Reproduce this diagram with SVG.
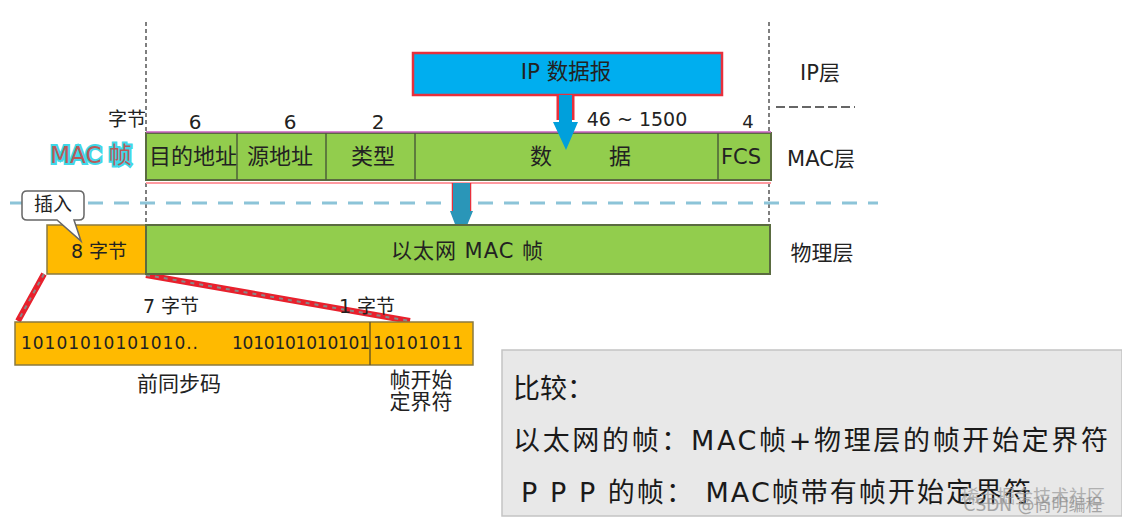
<svg xmlns="http://www.w3.org/2000/svg" width="1122" height="522" viewBox="0 0 1122 522" font-size="21">
<style>
text{font-family:"DejaVu Sans","Noto Sans CJK SC",sans-serif;fill:#222;text-anchor:middle}
.g{fill:#92cd4d;stroke:#5a6b40;stroke-width:2}
.o{fill:#ffba00;stroke:#8a7a40;stroke-width:1.5}
.l{fill:none;stroke:#555;stroke-width:1.5;stroke-dasharray:4 3}
.red{fill:none;stroke:#e8202c;stroke-width:6}
.redc{fill:none;stroke:#888;stroke-width:2;stroke-dasharray:4 5}
.big{font-size:27px;text-anchor:start;fill:#1a1a1a}
.s{text-anchor:start}
</style>
<rect width="1122" height="522" fill="#fff"/>
<g id="guides">
<path class="l" d="M146 22V224M769 22V224"/>
<path d="M776 107H855" fill="none" stroke="#666" stroke-width="2" stroke-dasharray="9 4"/>
<path d="M10 203H878" fill="none" stroke="#8cc4d8" stroke-width="3" stroke-dasharray="15 11"/>
</g>
<g id="ip-packet">
<rect x="413" y="53" width="309" height="42" fill="#00aeef" stroke="#e8303c" stroke-width="2.5"/>
<text x="566" y="79" font-size="21.5">IP 数据报</text>
</g>
<g id="mac-frame">
<rect x="146" y="133" width="625" height="47" class="g"/>
<path d="M146 132H771" stroke="#c860c0" stroke-width="1.5" fill="none"/>
<path d="M146 183H771" stroke="#ff9aa0" stroke-width="2" fill="none"/>
<path d="M237 133V180M326 133V180M415 133V180M718 133V180" stroke="#4e6038" stroke-width="1.5" fill="none"/>
<text x="193" y="164" font-size="22">目的地址</text>
<text x="280" y="164" font-size="22">源地址</text>
<text x="373" y="164" font-size="22">类型</text>
<text x="541" y="164" font-size="22">数</text>
<text x="620" y="164" font-size="22">据</text>
<text x="741" y="164">FCS</text>
</g>
<g id="byte-labels">
<text x="127" y="126" font-size="19">字节</text>
<text x="195" y="129" font-size="20">6</text>
<text x="290" y="129" font-size="20">6</text>
<text x="378" y="129" font-size="20">2</text>
<text x="637" y="126" font-size="19">46 ~ 1500</text>
<text x="748" y="128" font-size="18">4</text>
</g>
<g id="mac-label">
<text x="91" y="163" font-size="23" style="fill:#b85a5a;stroke:#40d8e8;stroke-width:4;paint-order:stroke">MAC 帧</text>
</g>
<g id="layer-labels">
<text x="820" y="80">IP层</text>
<text x="821" y="166">MAC层</text>
<text x="822" y="260">物理层</text>
</g>
<g id="connectors">
<path d="M558 95V120M573 95V120" stroke="#e8303c" stroke-width="3" fill="none"/>
<path d="M559 95V122H553L566 150L578 122H572V95Z" fill="#00a0dc"/>
<path d="M453 183V211M470 183V211" stroke="#e8303c" stroke-width="2.5" fill="none"/>
<path d="M453 183V211H450L461 240L473 211H470V183Z" fill="#2a96b8"/>
<path class="red" d="M44 274L18 321M146 275L410 321"/>
<path class="redc" d="M44 274L18 321M146 275L410 321"/>
</g>
<g id="phys-frame">
<rect x="47" y="225" width="99" height="49" class="o"/>
<text x="99" y="258" font-size="19">8 字节</text>
<rect x="146" y="225" width="624" height="49" class="g"/>
<text x="467" y="258" textLength="152">以太网 MAC 帧</text>
</g>
<g id="insert-callout">
<path d="M27 191H79Q84 191 84 196V215Q84 220 79 220H74L81 241L57 220H27Q22 220 22 215V196Q22 191 27 191Z" fill="#fff" stroke="#666" stroke-width="1.5"/>
<text x="53" y="211" font-size="19">插入</text>
</g>
<g id="preamble">
<rect x="15" y="322" width="458" height="43" class="o"/>
<path d="M370 322V365" stroke="#6e5a20" stroke-width="1.5"/>
<text class="s" x="21" y="349" font-size="17" textLength="177">10101010101010..</text>
<text class="s" x="232" y="349" font-size="17" textLength="138">1010101010101</text>
<text class="s" x="373" y="349" font-size="17" textLength="90">10101011</text>
<text x="171" y="313" font-size="19">7 字节</text>
<text x="367" y="313" font-size="19">1 字节</text>
<text x="179" y="391">前同步码</text>
<text x="421" y="387">帧开始</text>
<text x="421" y="409">定界符</text>
</g>
<g id="compare-box">
<rect x="502" y="350" width="620" height="166" fill="#e8e8e8" stroke="#c4c4c4" stroke-width="1.5"/>
<text class="big" x="513" y="398">比较：</text>
<text class="big" x="513" y="450" textLength="595">以太网的帧：MAC帧+物理层的帧开始定界符</text>
<text class="big" x="521" y="502" textLength="510">P P P 的帧： MAC帧带有帧开始定界符</text>
</g>
<g id="watermark">
<text x="1033" y="503" font-size="18" style="fill:#999;opacity:.7">稀土掘金技术社区</text>
<text x="1033" y="511" font-size="17" style="fill:#888;opacity:.7">CSDN @尚明编程</text>
</g>
</svg>
